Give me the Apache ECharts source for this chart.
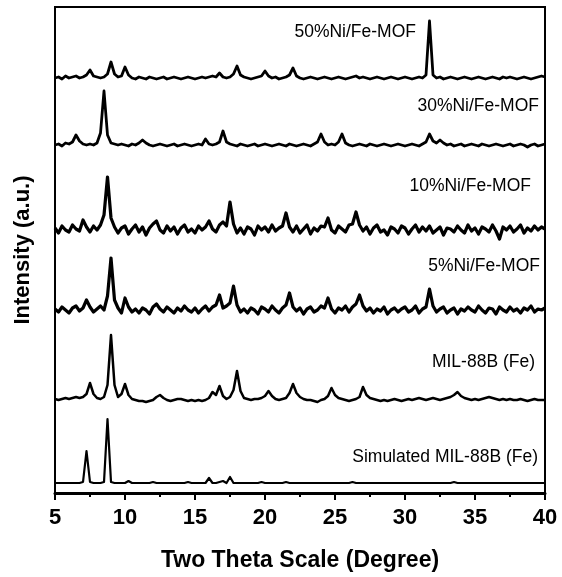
<!DOCTYPE html>
<html>
<head>
<meta charset="utf-8">
<script src="https://cdn.jsdelivr.net/npm/echarts@6/dist/echarts.min.js"></script>
<style>
html,body{margin:0;padding:0;background:#fff;}
#chart{width:562px;height:577px;}
</style>
</head>
<body>
<div id="chart"></div>
<script>
// 2θ sampling grid (degrees)
const twoTheta = [
5,5.25,5.5,5.75,6,6.25,6.5,6.75,7,7.25,
7.5,7.75,8,8.25,8.5,8.75,9,9.25,9.5,9.75,
10,10.25,10.5,10.75,11,11.25,11.5,11.75,12,12.25,
12.5,12.75,13,13.25,13.5,13.75,14,14.25,14.5,14.75,
15,15.25,15.5,15.75,16,16.25,16.5,16.75,17,17.25,
17.5,17.75,18,18.25,18.5,18.75,19,19.25,19.5,19.75,
20,20.25,20.5,20.75,21,21.25,21.5,21.75,22,22.25,
22.5,22.75,23,23.25,23.5,23.75,24,24.25,24.5,24.75,
25,25.25,25.5,25.75,26,26.25,26.5,26.75,27,27.25,
27.5,27.75,28,28.25,28.5,28.75,29,29.25,29.5,29.75,
30,30.25,30.5,30.75,31,31.25,31.5,31.75,32,32.25,
32.5,32.75,33,33.25,33.5,33.75,34,34.25,34.5,34.75,
35,35.25,35.5,35.75,36,36.25,36.5,36.75,37,37.25,
37.5,37.75,38,38.25,38.5,38.75,39,39.25,39.5,39.75,
40];

// Intensities (a.u.), relative to each pattern's own baseline
const ni50 = [
0,1,-1,2,0,1,2,0,1,3,
8,2,1,0,1,4,16,4,1,2,
11,3,0,-1,1,0,-1,1,0,-1,
0,1,-1,0,1,0,-1,0,1,0,
-1,0,1,0,1,2,1,5,1,0,
1,4,12,3,1,0,-1,0,1,2,
7,2,0,1,-1,0,1,3,10,2,
0,-1,0,1,0,-1,0,1,0,-1,
0,1,0,-1,0,1,2,0,1,0,
-1,0,1,0,-1,0,1,0,-1,0,
1,0,-1,0,1,0,3,57,3,0,
1,-1,0,1,0,-1,0,1,0,-1,
0,1,0,-1,0,1,0,-1,1,0,
1,0,-1,0,1,0,-1,0,1,2,
1];
const ni30 = [
0,1,-1,2,1,3,10,4,1,0,
1,0,2,12,54,10,2,1,0,1,
0,-1,1,0,2,5,2,0,-1,0,
1,0,-1,0,1,-1,0,1,0,-1,
0,1,0,6,1,0,1,3,14,3,
1,0,-1,1,0,-1,0,1,-1,0,
1,0,-1,0,1,0,-1,1,0,-1,
0,1,0,-1,1,3,11,3,0,1,
0,3,11,2,0,-1,0,1,0,-1,
1,0,-1,0,1,0,-1,0,1,0,
-1,0,1,0,-1,1,3,11,4,2,
5,2,0,1,-1,0,1,-1,0,1,
0,-1,1,0,-1,0,1,0,-1,0,
1,-1,0,1,0,-2,0,1,-1,0,
1];
const ni10 = [
2,-3,4,0,-2,5,1,-1,10,3,
-2,4,0,5,15,53,12,3,-3,2,
4,-4,1,5,-2,3,-5,2,6,9,
0,-3,4,-1,3,-4,2,5,-2,1,
-3,4,0,3,9,1,-2,5,8,4,
28,6,-3,2,-4,3,1,-5,4,0,
3,-2,5,-1,2,4,17,3,-2,4,
-3,1,5,-4,2,-1,4,3,12,0,
-3,4,1,-2,5,6,18,5,-1,3,
-4,2,5,-2,0,-5,3,1,-3,4,
2,-4,1,5,-2,3,-1,4,-3,0,
3,-5,2,1,-2,4,0,-3,5,-1,
2,-4,3,1,-2,5,-1,-9,3,0,
4,-2,1,5,-3,2,-1,4,0,3,
1];
const ni5 = [
1,-2,3,0,-3,2,4,-1,2,10,
3,-2,1,4,0,14,52,10,2,-3,
12,3,-2,1,-3,2,0,-4,3,6,
1,-2,3,0,-3,2,-1,4,0,-2,
2,-3,1,4,-1,3,5,15,2,4,
7,24,5,-2,1,-3,2,0,-4,3,
1,-2,4,0,-3,2,5,17,3,-1,
2,-4,1,3,-2,0,4,2,12,1,
-3,2,0,4,-2,3,6,15,4,-1,
2,-3,1,-1,3,-4,0,2,-2,1,
3,-2,0,4,-3,1,3,21,4,-2,
1,3,-3,0,2,-4,1,-1,3,0,
-2,4,0,-3,2,1,-4,3,0,-2,
3,-1,1,-3,2,0,4,-2,1,0,
2];
const mil88b = [
0,-1,0,1,0,1,2,1,2,5,
16,5,1,0,2,14,64,14,2,5,
15,4,0,-1,-2,-2,-3,-2,-1,2,
4,1,-1,-2,-1,0,0,-1,-2,-1,
-2,-1,-2,-1,1,7,4,13,3,0,
2,9,28,8,1,0,-1,0,0,1,
3,8,3,0,-1,0,1,6,15,6,
2,0,-1,-1,-2,-3,-1,0,3,11,
4,1,0,-1,-2,-1,0,2,12,4,
1,0,-1,-2,-1,-2,-1,0,-1,-2,
-1,0,-1,0,1,0,-1,0,1,0,
-1,0,1,2,4,7,3,1,0,-1,
0,-1,0,1,2,1,0,-1,0,-1,
0,-1,-1,0,-1,-2,-1,0,-1,-1,
-1];
const simulated = [
0,0,0,0,0,0,0,0,1,32,
1,0,0,0,1,64,1,0,0,0,
0,2,0,0,0,0,0,0,1,0,
0,0,0,0,0,0,0,0,1,0,
0,0,0,0,5,0,0,1,2,0,
6,0,0,0,0,0,0,0,0,1,
0,0,0,0,0,0,1,0,0,0,
0,0,0,0,0,0,0,0,0,0,
0,0,0,0,0,1,0,0,0,0,
0,0,0,0,0,0,0,0,0,0,
0,0,0,0,0,0,0,0,0,0,
0,0,0,0,1,0,0,0,0,0,
0,0,0,0,0,0,0,0,0,0,
0,0,0,0,0,0,0,0,0,0,
0];

const sampleNames = ['50%Ni/Fe-MOF','30%Ni/Fe-MOF','10%Ni/Fe-MOF','5%Ni/Fe-MOF','MIL-88B (Fe)','Simulated MIL-88B (Fe)'];
const sampleData = [ni50, ni30, ni10, ni5, mil88b, simulated];
const stackOffsets = [415, 348, 263, 183, 94, 10];
const xTicks = [5,10,15,20,25,30,35,40];

// style: line widths and label placement (right edge x / center y, px)
const lineWidths = [2.8, 2.8, 3.2, 3.2, 2.5, 2.2];
const labelPos = [[416,33],[539,107],[531,187],[540,267],[535,363],[538,458]];

const chart = echarts.init(document.getElementById('chart'), null, {renderer:'canvas'});

const series = sampleData.map((arr, k) => ({
  type: 'line',
  name: sampleNames[k],
  showSymbol: false,
  symbol: 'none',
  smooth: false,
  animation: false,
  lineStyle: { color: '#000', width: lineWidths[k], join: 'round' },
  data: arr.map((v, i) => [twoTheta[i], v + stackOffsets[k]])
}));

const graphics = sampleNames.map((t, k) => ({
  type: 'text',
  right: 562 - labelPos[k][0],
  top: labelPos[k][1] - 10,
  style: { text: t, fill: '#000', font: '17.5px "Liberation Sans", Arial, sans-serif' }
}));

chart.setOption({
  backgroundColor: '#fff',
  animation: false,
  grid: { left: 55, right: 17, top: 7, bottom: 84, show: true, borderColor: '#000', borderWidth: 2, backgroundColor: 'transparent' },
  xAxis: {
    type: 'value', min: xTicks[0], max: xTicks[xTicks.length-1], interval: 5,
    name: 'Two Theta Scale (Degree)', nameLocation: 'middle', nameGap: 56,
    nameTextStyle: { color: '#000', fontSize: 23, fontWeight: 'bold', fontFamily: '"Liberation Sans", Arial, sans-serif' },
    axisLine: { show: true, lineStyle: { color: '#000', width: 3 } },
    axisTick: { show: true, inside: false, length: 7, lineStyle: { color: '#000', width: 2 } },
    minorTick: { show: true, splitNumber: 2, length: 4, lineStyle: { color: '#000', width: 2 } },
    splitLine: { show: false },
    axisLabel: { color: '#000', fontSize: 22, fontWeight: 'bold', fontFamily: '"Liberation Sans", Arial, sans-serif', margin: 14 }
  },
  yAxis: {
    type: 'value', min: 0, max: 486,
    name: 'Intensity (a.u.)', nameLocation: 'middle', nameGap: 21,
    nameTextStyle: { color: '#000', fontSize: 22, fontWeight: 'bold', fontFamily: '"Liberation Sans", Arial, sans-serif' },
    axisLine: { show: true, lineStyle: { color: '#000', width: 2 } },
    axisTick: { show: false }, axisLabel: { show: false }, splitLine: { show: false }
  },
  series: series,
  graphic: graphics
});
</script>
</body>
</html>
